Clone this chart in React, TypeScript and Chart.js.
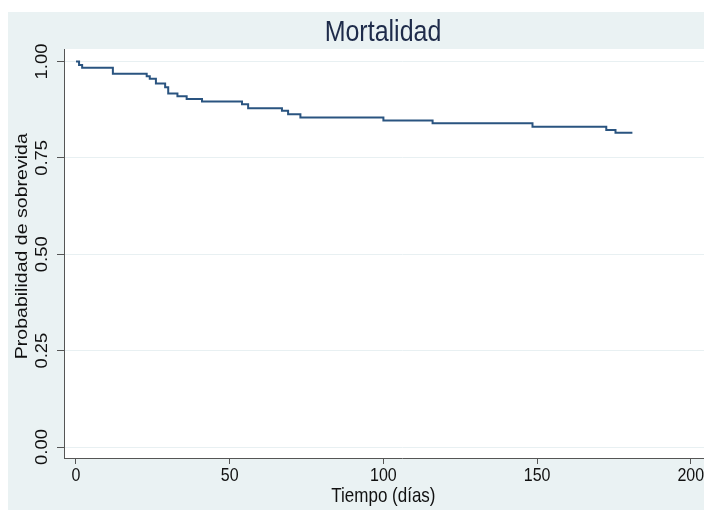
import React, { useEffect, useRef } from "react";
import { Chart, registerables } from "chart.js";

Chart.register(...registerables);

// ---- Data ----
const titleText = "Mortalidad";
const xAxisTitle = "Tiempo (días)";
const yAxisTitle = "Probabilidad de sobrevida";
const xTickValues = [0, 50, 100, 150, 200];
const xTickLabels = ["0", "50", "100", "150", "200"];
const yTickValues = [0, 0.25, 0.5, 0.75, 1];
const yTickLabels = ["0.00", "0.25", "0.50", "0.75", "1.00"];
// Kaplan-Meier step points (time in days, survival after event)
const times = [0, 1, 2, 12, 23, 24, 26, 29, 30, 33, 36, 41, 54, 56, 67, 69, 73, 100, 116, 148.5, 172.5, 175.5, 181];
const survival = [1, 0.991, 0.984, 0.968, 0.962, 0.955, 0.943, 0.933, 0.917, 0.91, 0.903, 0.896, 0.889, 0.879, 0.872, 0.863, 0.855, 0.847, 0.84, 0.831, 0.822, 0.815, 0.815];

const FONT = '"Liberation Sans", Arial, Helvetica, sans-serif';
const SY = 1.15;

function drawText(
  ctx: CanvasRenderingContext2D,
  text: string,
  x: number,
  y: number,
  size: number,
  rot: number,
  color: string
) {
  ctx.save();
  ctx.translate(x, y);
  ctx.scale(1, SY);
  ctx.rotate(rot);
  ctx.font = `${size}px ${FONT}`;
  ctx.fillStyle = color;
  ctx.textAlign = "center";
  ctx.textBaseline = "middle";
  ctx.fillText(text, 0, 0);
  ctx.restore();
}

const textPlugin = {
  id: "stataTexts",
  afterDraw(chart: any) {
    const ctx = chart.ctx as CanvasRenderingContext2D;
    const ca = chart.chartArea;
    const xs = chart.scales.x;
    const ys = chart.scales.y;
    drawText(ctx, titleText, 375, 21, 25, 0, "#1E2B4A");
    xTickValues.forEach((v, i) => {
      drawText(ctx, xTickLabels[i], xs.getPixelForValue(v), ca.bottom + 18, 16, 0, "#111");
    });
    drawText(ctx, xAxisTitle, xs.getPixelForValue(100), ca.bottom + 39, 17, 0, "#111");
    yTickValues.forEach((v, i) => {
      drawText(ctx, yTickLabels[i], ca.left - 21, ys.getPixelForValue(v), 16, -Math.PI / 2, "#111");
    });
    drawText(ctx, yAxisTitle, ca.left - 42, ys.getPixelForValue(0.5) - 8, 17, -Math.PI / 2, "#111");
  },
};

export default function App() {
  const ref = useRef<HTMLCanvasElement | null>(null);
  useEffect(() => {
    if (!ref.current) return;
    const chart = new Chart(ref.current, {
      type: "line",
      data: {
        datasets: [
          {
            data: times.map((t, i) => ({ x: t, y: survival[i] })),
            borderColor: "#2A5480",
            borderWidth: 2,
            pointRadius: 0,
            stepped: "before",
            fill: false,
          },
        ],
      },
      options: {
        animation: false,
        responsive: false,
        maintainAspectRatio: false,
        layout: { padding: { top: 37, right: 28, left: 0, bottom: 0 } },
        plugins: { legend: { display: false }, tooltip: { enabled: false }, title: { display: false } },
        scales: {
          x: {
            type: "linear",
            min: -3.9,
            max: 216,
            afterFit: (s: any) => {
              s.height = 52;
            },
            afterBuildTicks: (s: any) => {
              s.ticks = xTickValues.map((v) => ({ value: v }));
            },
            ticks: { display: false },
            grid: { display: true, drawOnChartArea: false, drawTicks: true, tickLength: 6, tickColor: "#555", tickWidth: 1 },
            border: { display: true, color: "#555", width: 1 },
          },
          y: {
            type: "linear",
            min: -0.0285,
            max: 1.0324,
            afterFit: (s: any) => {
              s.width = 56;
            },
            afterBuildTicks: (s: any) => {
              s.ticks = yTickValues.map((v) => ({ value: v }));
            },
            ticks: { display: false },
            grid: { display: true, drawOnChartArea: true, color: "#E8F0F2", lineWidth: 1, drawTicks: true, tickLength: 7, tickColor: "#555", tickWidth: 1 },
            border: { display: true, color: "#555", width: 1 },
          },
        },
      },
      plugins: [
        {
          id: "plotBg",
          beforeDraw(chart: any) {
            const { ctx, chartArea } = chart;
            ctx.save();
            ctx.fillStyle = "#FFFFFF";
            ctx.fillRect(chartArea.left, chartArea.top, chartArea.right - chartArea.left, chartArea.bottom - chartArea.top);
            ctx.restore();
          },
        },
        textPlugin,
      ],
    });
    return () => chart.destroy();
  }, []);
  return (
    <div
      style={{
        position: "absolute",
        left: 8,
        top: 12,
        width: 696,
        height: 498,
        overflow: "hidden",
        background: "#EAF2F3",
      }}
    >
      <canvas ref={ref} width={760} height={498} style={{ display: "block", width: 760, height: 498 }} />
    </div>
  );
}
